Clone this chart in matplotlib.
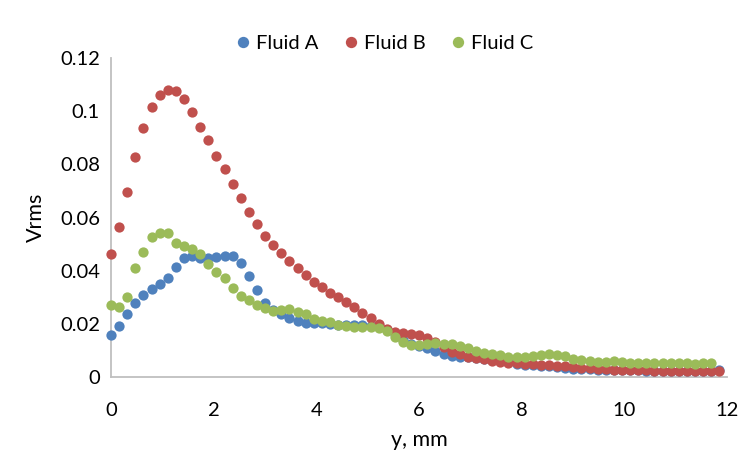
import matplotlib
matplotlib.use("Agg")
import matplotlib.pyplot as plt
import numpy as np

# Sampling positions across the gap (mm)
y_step = 0.158
n_pts = 76
y_mm = np.arange(n_pts) * y_step

fluid_a = [
    0.0158, 0.0193, 0.0236, 0.0277, 0.0308, 0.0330, 0.0350, 0.0373, 0.0412, 0.0449,
    0.0455, 0.0448, 0.0446, 0.0450, 0.0455, 0.0455, 0.0427, 0.0380, 0.0327, 0.0279,
    0.0252, 0.0237, 0.0221, 0.0212, 0.0204, 0.0204, 0.0202, 0.0199, 0.0195, 0.0195,
    0.0195, 0.0194, 0.0192, 0.0190, 0.0178, 0.0160, 0.0140, 0.0126, 0.0118, 0.0110,
    0.0096, 0.0086, 0.0078, 0.0076, 0.0074, 0.0072, 0.0068, 0.0065, 0.0063, 0.0060,
    0.0049, 0.0047, 0.0045, 0.0043, 0.0040, 0.0036, 0.0033, 0.0031, 0.0030, 0.0029,
    0.0028, 0.0027, 0.0027, 0.0026, 0.0026, 0.0025, 0.0024, 0.0023, 0.0023, 0.0022,
    0.0022, 0.0021, 0.0021, 0.0021, 0.0022, 0.0025,
]

fluid_b = [
    0.0464, 0.0564, 0.0695, 0.0827, 0.0937, 0.1014, 0.1060, 0.1081, 0.1076, 0.1045,
    0.0996, 0.0941, 0.0890, 0.0833, 0.0781, 0.0727, 0.0672, 0.0621, 0.0575, 0.0531,
    0.0496, 0.0465, 0.0437, 0.0411, 0.0383, 0.0358, 0.0339, 0.0317, 0.0302, 0.0283,
    0.0264, 0.0242, 0.0221, 0.0199, 0.0179, 0.0170, 0.0164, 0.0161, 0.0158, 0.0145,
    0.0133, 0.0114, 0.0095, 0.0086, 0.0076, 0.0073, 0.0067, 0.0061, 0.0058, 0.0052,
    0.0051, 0.0049, 0.0048, 0.0047, 0.0046, 0.0043, 0.0040, 0.0037, 0.0034, 0.0032,
    0.0030, 0.0029, 0.0028, 0.0028, 0.0027, 0.0026, 0.0025, 0.0024, 0.0024, 0.0023,
    0.0023, 0.0022, 0.0022, 0.0022, 0.0022, 0.0023,
]

fluid_c = [
    0.0271, 0.0262, 0.0302, 0.0411, 0.0471, 0.0525, 0.0542, 0.0540, 0.0503, 0.0494,
    0.0480, 0.0461, 0.0424, 0.0396, 0.0373, 0.0335, 0.0306, 0.0289, 0.0271, 0.0258,
    0.0249, 0.0252, 0.0254, 0.0245, 0.0238, 0.0218, 0.0211, 0.0207, 0.0197, 0.0192,
    0.0189, 0.0189, 0.0189, 0.0186, 0.0173, 0.0152, 0.0130, 0.0120, 0.0120, 0.0123,
    0.0127, 0.0124, 0.0123, 0.0118, 0.0108, 0.0099, 0.0091, 0.0086, 0.0083, 0.0076,
    0.0075, 0.0076, 0.0079, 0.0082, 0.0085, 0.0084, 0.0078, 0.0068, 0.0064, 0.0060,
    0.0057, 0.0056, 0.0061, 0.0058, 0.0053, 0.0051, 0.0051, 0.0051, 0.0052, 0.0052,
    0.0051, 0.0051, 0.0050, 0.0052, 0.0054,
]

series = [
    ("Fluid A", fluid_a, "#4F81BD"),
    ("Fluid B", fluid_b, "#C0504D"),
    ("Fluid C", fluid_c, "#9BBB59"),
]

x_ticks = [0, 2, 4, 6, 8, 10, 12]
y_ticks = [0, 0.02, 0.04, 0.06, 0.08, 0.1, 0.12]
y_tick_labels = ["0", "0.02", "0.04", "0.06", "0.08", "0.1", "0.12"]

plt.rcParams["font.family"] = ["Lato", "DejaVu Sans"]

fig = plt.figure(figsize=(7.51, 4.61), dpi=100)
ax = fig.add_axes([111 / 751, 1 - 377 / 461, (727 - 111) / 751, (377 - 58) / 461])

for name, vals, col in series:
    ax.plot(y_mm[:len(vals)], vals, linestyle="none", marker="o",
            markersize=7.4, markeredgewidth=0, color=col, label=name,
            clip_on=False)

ax.set_xlim(0, 12)
ax.set_ylim(0, 0.12)
ax.set_xticks(x_ticks)
ax.set_xticklabels([str(t) for t in x_ticks])
ax.set_yticks(y_ticks)
ax.set_yticklabels(y_tick_labels)
ax.tick_params(axis="both", length=0, labelsize=14.5, colors="black")
ax.tick_params(axis="y", pad=8)
ax.tick_params(axis="x", pad=18)

for side in ("top", "right"):
    ax.spines[side].set_visible(False)
for side in ("left", "bottom"):
    ax.spines[side].set_color("#BFBFBF")
    ax.spines[side].set_linewidth(1.3)
    ax.spines[side].set_zorder(0.5)

ax.set_xlabel("y, mm", fontsize=15.5, labelpad=8)
ax.set_ylabel("Vrms", fontsize=15.5, labelpad=10)

fig.legend(loc="center", bbox_to_anchor=(0.51, 0.905), ncol=3, frameon=False,
           fontsize=14.5, handletextpad=0.15, columnspacing=1.1, handlelength=1.0,
           markerscale=1.1)

fig.savefig("out.png", dpi=100)
